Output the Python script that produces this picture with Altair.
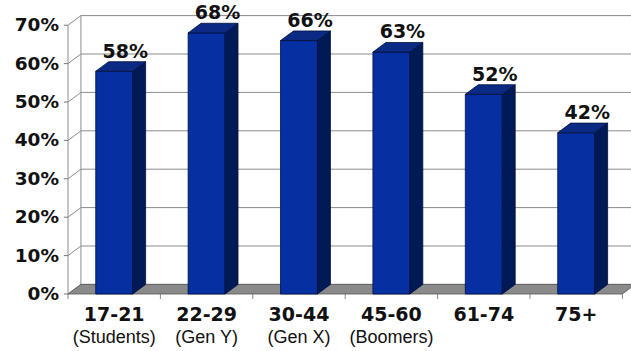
import altair as alt
import pandas as pd

categories = ["17-21", "22-29", "30-44", "45-60", "61-74", "75+"]
subtitles = ["(Students)", "(Gen Y)", "(Gen X)", "(Boomers)", "", ""]
values = [58, 68, 66, 63, 52, 42]
y_ticks = [0, 10, 20, 30, 40, 50, 60, 70]
y_tick_labels = ["0%", "10%", "20%", "30%", "40%", "50%", "60%", "70%"]

# 3D styling constants (x units / y units)
D = 0.14     # depth offset in x
DV = 2.5     # depth offset in y
HW = 0.2     # half bar width
XMAX = 563 / 92.4
YMAX = 280 / 3.84
N = len(categories)

front_c, side_c, top_c, edge_c = "#0630A2", "#001A58", "#0A2A84", "#00103C"
grid_c = "#8c8c8c"

xs = alt.Scale(domain=[0, XMAX], nice=False, zero=False)
ys = alt.Scale(domain=[0, YMAX], nice=False)


def X(f):
    return alt.X(f, scale=xs, axis=None)


def Y(f):
    return alt.Y(f, scale=ys, axis=None)


front = pd.DataFrame({
    "cat": categories,
    "x1": [i + 0.5 - HW for i in range(N)],
    "x2": [i + 0.5 + HW for i in range(N)],
    "v": values,
    "zero": 0.0,
    "lx": [i + 0.5 + D * 0.85 for i in range(N)],
    "ly": [v + DV for v in values],
    "lab": [f"{v}%" for v in values],
    "c": [i + 0.5 for i in range(N)],
    "sub": subtitles,
})

side_rows, top_rows = [], []
for i, (c, v) in enumerate(zip(categories, values)):
    cx = i + 0.5
    side_rows += [
        {"cat": c, "x": cx + HW, "lo": 0, "hi": v},
        {"cat": c, "x": cx + HW + D, "lo": DV, "hi": v + DV},
    ]
    top_rows += [
        {"cat": c, "x": cx - HW, "lo": v, "hi": v},
        {"cat": c, "x": cx - HW + D, "lo": v, "hi": v + DV},
        {"cat": c, "x": cx + HW, "lo": v, "hi": v + DV},
        {"cat": c, "x": cx + HW + D, "lo": v + DV, "hi": v + DV},
    ]
side = pd.DataFrame(side_rows)
top = pd.DataFrame(top_rows)

floor = pd.DataFrame([
    {"g": "f", "x": 0, "lo": 0, "hi": 0},
    {"g": "f", "x": D, "lo": 0, "hi": DV},
    {"g": "f", "x": N, "lo": 0, "hi": DV},
    {"g": "f", "x": N + D, "lo": DV, "hi": DV},
])

grid = pd.DataFrame({
    "g": [float(t) for t in y_ticks],
    "gb": [t + DV for t in y_ticks],
    "x0": 0.0, "xd": D, "xe": XMAX, "xt": -0.045,
    "lab": y_tick_labels,
})
xt = pd.DataFrame({"x": [float(i) for i in range(N + 1)], "y": 0.0})

back_lines = alt.Chart(grid).mark_rule(color=grid_c, strokeWidth=1).encode(
    x=X("xd:Q"), x2="xe:Q", y=Y("gb:Q"))
wall_lines = alt.Chart(grid).mark_rule(color=grid_c, strokeWidth=1).encode(
    x=X("x0:Q"), x2="xd:Q", y=Y("g:Q"), y2="gb:Q")
y_ticks_marks = alt.Chart(grid).mark_rule(color="#777", strokeWidth=1).encode(
    x=X("xt:Q"), x2="x0:Q", y=Y("g:Q"))
y_labels = alt.Chart(grid).mark_text(font="DejaVu Sans", fontWeight="bold", fontSize=18.5,
                                     color="#111", align="right", baseline="middle", dx=-9).encode(
    x=X("x0:Q"), y=Y("g:Q"), text="lab:N")
axis_frame = pd.DataFrame({"x": [0.0, D], "y1": [0.0, DV], "y2": [70.0, 70 + DV]})
verticals = alt.Chart(axis_frame).mark_rule(color=grid_c, strokeWidth=1).encode(
    x=X("x:Q"), y=Y("y1:Q"), y2="y2:Q")
x_ticks = alt.Chart(xt).mark_tick(color="#555", orient="vertical", size=5, yOffset=2.5,
                                  thickness=1).encode(x=X("x:Q"), y=Y("y:Q"))

floor_area = alt.Chart(floor).mark_area(color="#8a8a8a", stroke="#555", strokeWidth=0.8).encode(
    x=X("x:Q"), y=Y("lo:Q"), y2="hi:Q", detail="g:N")

front_bars = alt.Chart(front).mark_rect(color=front_c, stroke=edge_c, strokeWidth=0.8).encode(
    x=X("x1:Q"), x2="x2:Q", y=Y("v:Q"), y2="zero:Q")
side_faces = alt.Chart(side).mark_area(color=side_c, stroke=edge_c, strokeWidth=0.8).encode(
    x=X("x:Q"), y=Y("lo:Q"), y2="hi:Q", detail="cat:N")
top_faces = alt.Chart(top).mark_area(color=top_c, stroke=edge_c, strokeWidth=0.8).encode(
    x=X("x:Q"), y=Y("lo:Q"), y2="hi:Q", detail="cat:N")

bar_labels = alt.Chart(front).mark_text(font="DejaVu Sans", fontWeight="bold", fontSize=19,
                                        color="#111", baseline="alphabetic", dy=-4).encode(
    x=X("lx:Q"), y=Y("ly:Q"), text="lab:N")

cat_labels = alt.Chart(front).mark_text(font="DejaVu Sans", fontWeight="bold", fontSize=19,
                                        color="#111", baseline="middle").encode(
    x=X("c:Q"), y=alt.value(301), text="cat:N")
sub_labels = alt.Chart(front).mark_text(font="Liberation Sans", fontSize=18,
                                        color="#111", baseline="middle").encode(
    x=X("c:Q"), y=alt.value(324), text="sub:N")

chart = alt.layer(
    wall_lines, verticals, back_lines, y_ticks_marks, y_labels, x_ticks, floor_area,
    front_bars, side_faces, top_faces, bar_labels, cat_labels, sub_labels
).properties(
    width=563, height=280,
    autosize=alt.AutoSizeParams(type="none"),
    padding={"left": 68, "top": 14, "right": 0, "bottom": 57},
    background="white",
).configure_view(stroke=None)

chart.save("out.html", embed_options={"renderer": "svg", "actions": False})
